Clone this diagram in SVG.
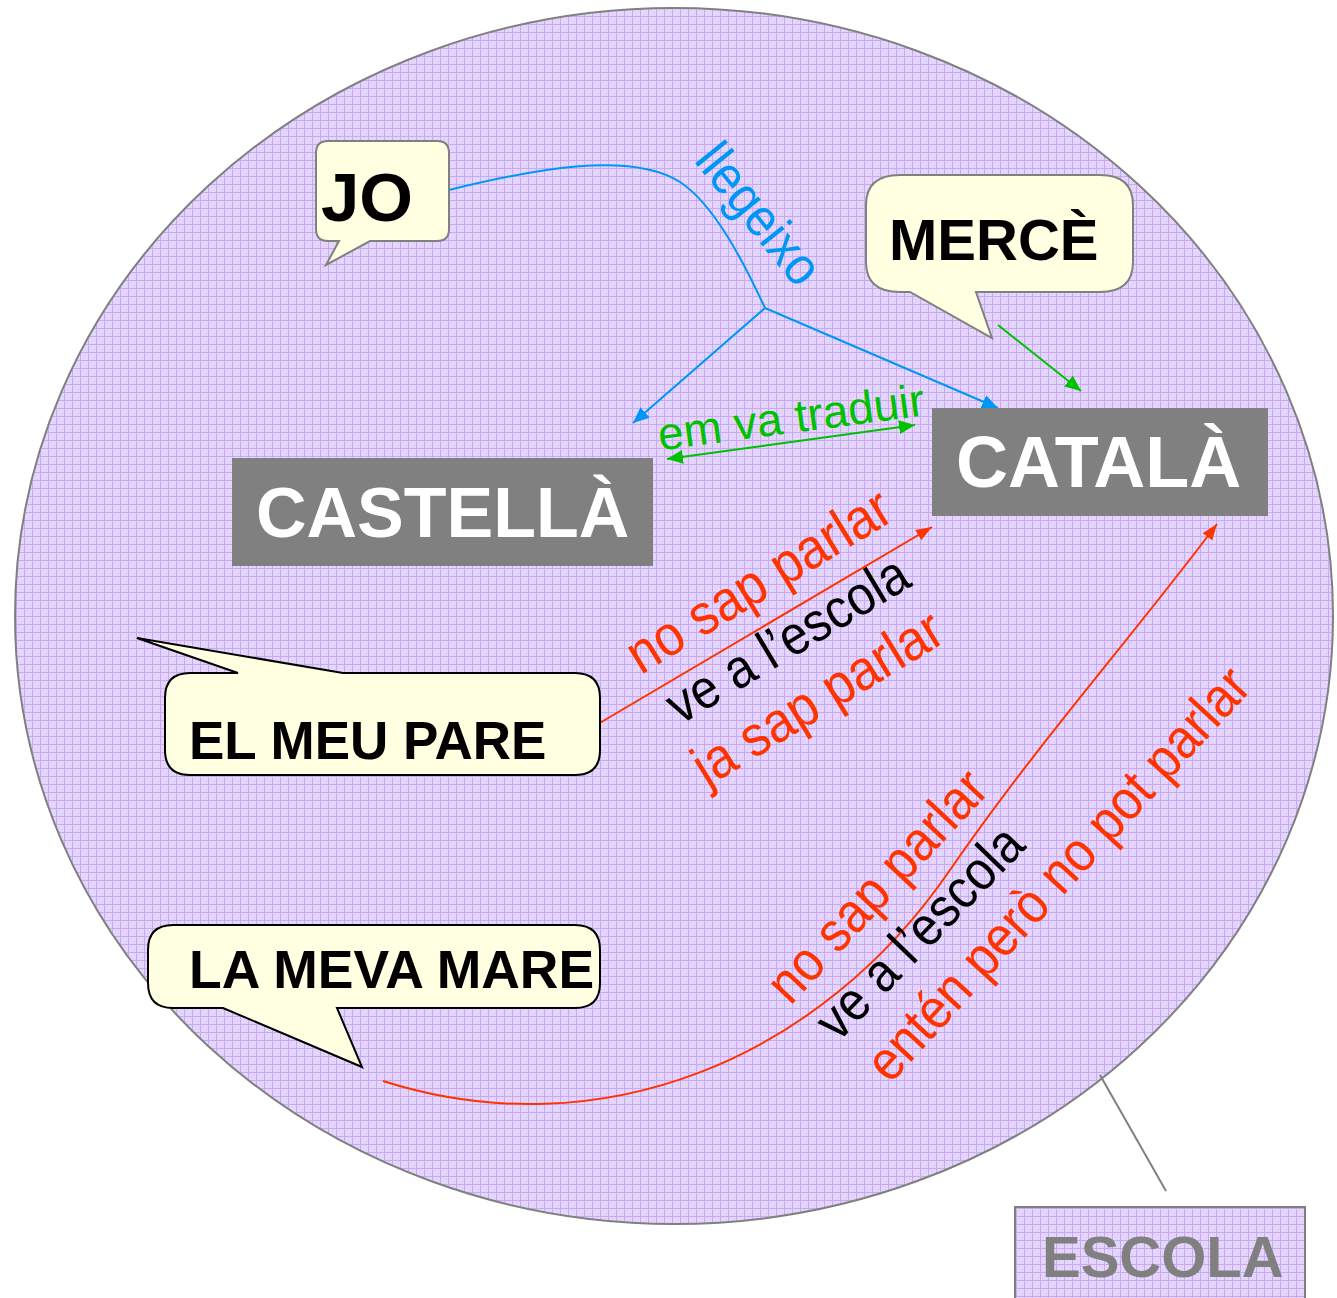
<svg xmlns="http://www.w3.org/2000/svg" width="1337" height="1298" viewBox="0 0 1337 1298">
<style>
.bub{fill:#ffffe1;stroke-width:2;stroke-linejoin:miter}
.gb{stroke:#808080}
.kb{stroke:#000}
.lbl{font-family:"Liberation Sans",Arial,sans-serif;font-weight:bold}
.rt{font-family:"Liberation Sans",Arial,sans-serif}
.box{fill:#808080}
</style>
<defs>
<pattern id="grid" width="8" height="8" patternUnits="userSpaceOnUse">
<rect width="8" height="8" fill="#e3d5fc"/>
<path d="M0,0.5H8M0.5,0V8" stroke="#c9aaf2" stroke-width="1"/>
</pattern>
<marker id="ab" markerUnits="userSpaceOnUse" markerWidth="18" markerHeight="16" refX="16" refY="7" orient="auto-start-reverse"><path d="M0,0 L16,7 L0,14 Z" fill="#0096f5"/></marker>
<marker id="ag" markerUnits="userSpaceOnUse" markerWidth="18" markerHeight="16" refX="16" refY="7" orient="auto-start-reverse"><path d="M0,0 L16,7 L0,14 Z" fill="#00c000"/></marker>
<marker id="ar" markerUnits="userSpaceOnUse" markerWidth="18" markerHeight="16" refX="16" refY="6" orient="auto-start-reverse"><path d="M0,0 L16,6 L0,12 Z" fill="#ff3300"/></marker>
</defs>

<g id="escola-area">
<ellipse cx="674" cy="616" rx="659" ry="608" fill="url(#grid)" stroke="#808080" stroke-width="2"/>
</g>

<g id="connectors" fill="none">
<path d="M449,190 C530,170 630,150 680,182 C715,205 745,265 765,308" stroke="#0096f5" stroke-width="2"/>
<path d="M765,308 L633,423" stroke="#0096f5" stroke-width="2" marker-end="url(#ab)"/>
<path d="M765,308 L998,408" stroke="#0096f5" stroke-width="2" marker-end="url(#ab)"/>
<path d="M667,459 L915,425" stroke="#00c000" stroke-width="2" marker-start="url(#ag)" marker-end="url(#ag)"/>
<path d="M998,325 L1081,391" stroke="#00c000" stroke-width="2" marker-end="url(#ag)"/>
<path d="M598,724 L932,527" stroke="#ff3300" stroke-width="2" marker-end="url(#ar)"/>
<path d="M383,1081 C600,1150 820,1060 950,870 C1040,740 1130,640 1217,524" stroke="#ff3300" stroke-width="2" marker-end="url(#ar)"/>
<path d="M1100,1075 L1166,1191" stroke="#808080" stroke-width="2"/>
</g>

<g id="labels">
<text class="rt" transform="translate(760,213) rotate(51) scale(0.92,1)" x="0" y="19" font-size="53" fill="#0096f5" text-anchor="middle">llegeixo</text>
<text class="rt" transform="translate(791,417) rotate(-7.5)" x="0" y="16" font-size="46" fill="#00c000" text-anchor="middle">em va traduir</text>
<g transform="translate(758,580) rotate(-31.5) scale(0.9,1)"><text class="rt" x="0" y="20" font-size="57" fill="#ff3300" text-anchor="middle">no sap parlar</text></g>
<g transform="translate(787,639) rotate(-31) scale(0.9,1)"><text class="rt" x="0" y="19" font-size="55" fill="#000" text-anchor="middle">ve a l’escola</text></g>
<g transform="translate(817,697) rotate(-31.5) scale(0.9,1)"><text class="rt" x="0" y="20" font-size="57" fill="#ff3300" text-anchor="middle">ja sap parlar</text></g>
<g transform="translate(876,885) rotate(-47) scale(0.9,1)"><text class="rt" x="0" y="20" font-size="56" fill="#ff3300" text-anchor="middle">no sap parlar</text></g>
<g transform="translate(919,932) rotate(-46) scale(0.9,1)"><text class="rt" x="0" y="19" font-size="55" fill="#000" text-anchor="middle">ve a l’escola</text></g>
<g transform="translate(1057,873) rotate(-47.5) scale(0.9,1)"><text class="rt" x="0" y="20" font-size="56" fill="#ff3300" text-anchor="middle">entén però no pot parlar</text></g>
</g>

<g id="jo">
<path class="bub gb" d="M328,141 H437 Q449,141 449,153 V229 Q449,241 437,241 H370 L326,265 L339,241 H328 Q316,241 316,229 V153 Q316,141 328,141 Z"/>
<text class="lbl" x="321" y="221" font-size="69" fill="#000">JO</text>
</g>

<g id="merce">
<path class="bub gb" d="M900,175 H1100 Q1133,175 1133,205 V262 Q1133,292 1100,292 H976 L992,338 L910,292 H900 Q866,292 866,262 V205 Q866,175 900,175 Z"/>
<text class="lbl" x="889" y="260" font-size="58" fill="#000">MERCÈ</text>
</g>

<g id="catala">
<rect class="box" x="932" y="408" width="336" height="108"/>
<text class="lbl" x="956" y="487" font-size="72" fill="#fff">CATALÀ</text>
</g>

<g id="castella">
<rect class="box" x="232" y="458" width="421" height="108"/>
<text class="lbl" x="256" y="537" font-size="70" fill="#fff">CASTELLÀ</text>
</g>

<g id="pare">
<path class="bub kb" d="M190,673 H238 L137,638 L343,673 H575 Q600,673 600,698 V750 Q600,775 575,775 H190 Q165,775 165,750 V698 Q165,673 190,673 Z"/>
<text class="lbl" x="189" y="759" font-size="53" fill="#000">EL MEU PARE</text>
</g>

<g id="mare">
<path class="bub kb" d="M173,925 H575 Q600,925 600,950 V983 Q600,1008 575,1008 H337 L362,1067 L223,1008 H173 Q148,1008 148,983 V950 Q148,925 173,925 Z"/>
<text class="lbl" x="189" y="988" font-size="53.5" fill="#000">LA MEVA MARE</text>
</g>

<g id="escola">
<rect x="1015" y="1207" width="290" height="100" fill="url(#grid)" stroke="#808080" stroke-width="2"/>
<text class="lbl" x="1042" y="1277" font-size="58" fill="#808080">ESCOLA</text>
</g>
</svg>
